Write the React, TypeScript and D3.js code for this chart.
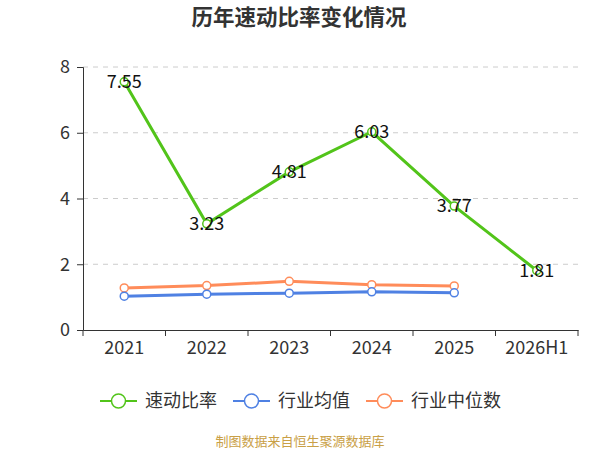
import * as d3 from 'd3';
import { useEffect, useRef } from 'react';

const categories = ['2021', '2022', '2023', '2024', '2025', '2026H1'];
const quickRatio = [7.55, 3.23, 4.81, 6.03, 3.77, 1.81];
const industryMean = [1.03, 1.09, 1.12, 1.16, 1.13];
const industryMedian = [1.28, 1.35, 1.48, 1.38, 1.34];
const yTicks = [0, 2, 4, 6, 8];

const series = [
  { name: '速动比率', values: quickRatio, color: '#52c41a', labels: true },
  { name: '行业均值', values: industryMean, color: '#4f81e3', labels: false },
  { name: '行业中位数', values: industryMedian, color: '#ff8c5a', labels: false },
];

const FONT = '"Noto Sans CJK SC", "Noto Sans", sans-serif';

export default function App(): React.ReactElement {
  const svgRef = useRef<SVGSVGElement>(null);

  useEffect(() => {
    if (!svgRef.current) return;
    const svg = d3.select(svgRef.current);
    svg.selectAll('*').remove();

    const left = 83;
    const right = 578;
    const top = 67;
    const bottom = 330;

    const x = d3.scaleBand<string>().domain(categories).range([left, right]);
    const y = d3.scaleLinear().domain([0, 8]).range([bottom, top]);

    // Title
    svg
      .append('text')
      .attr('x', 299)
      .attr('y', 25)
      .attr('text-anchor', 'middle')
      .attr('font-family', FONT)
      .attr('font-size', 21.5)
      .attr('font-weight', 'bold')
      .attr('fill', '#333')
      .text('历年速动比率变化情况');

    // Grid
    svg
      .append('g')
      .selectAll('line')
      .data(yTicks.filter((t) => t > 0))
      .enter()
      .append('line')
      .attr('x1', left)
      .attr('x2', right)
      .attr('y1', (d) => y(d))
      .attr('y2', (d) => y(d))
      .attr('stroke', '#ccc')
      .attr('stroke-dasharray', '5,5');

    // Y axis
    const yAxis = svg
      .append('g')
      .attr('transform', `translate(${left},0)`)
      .call(d3.axisLeft(y).tickValues(yTicks).tickSize(6).tickPadding(7));
    yAxis.select('.domain').attr('stroke', '#333');
    yAxis.selectAll('line').attr('stroke', '#333');
    yAxis
      .selectAll('text')
      .attr('font-family', FONT)
      .attr('font-size', 18)
      .attr('fill', '#333');

    // X axis
    const xAxis = svg
      .append('g')
      .attr('transform', `translate(0,${bottom})`)
      .call(d3.axisBottom(x).tickSize(0).tickPadding(11));
    xAxis.select('.domain').attr('stroke', '#333');
    xAxis
      .selectAll('text')
      .attr('font-family', FONT)
      .attr('font-size', 18)
      .attr('fill', '#333');
    const bounds = [...categories.map((c) => x(c) as number), right];
    xAxis
      .selectAll('line.bound')
      .data(bounds)
      .enter()
      .append('line')
      .attr('class', 'bound')
      .attr('x1', (d) => d)
      .attr('x2', (d) => d)
      .attr('y1', 0)
      .attr('y2', 6)
      .attr('stroke', '#333');

    const cx = (i: number) => (x(categories[i]) as number) + x.bandwidth() / 2;
    const line = d3
      .line<number>()
      .x((_, i) => cx(i))
      .y((d) => y(d));

    // Draw industry lines first, then main series on top
    [series[2], series[1], series[0]].forEach((s) => {
      const g = svg.append('g');
      g.append('path')
        .datum(s.values)
        .attr('d', line)
        .attr('fill', 'none')
        .attr('stroke', s.color)
        .attr('stroke-width', 3);
      g.selectAll('circle')
        .data(s.values)
        .enter()
        .append('circle')
        .attr('cx', (_, i) => cx(i))
        .attr('cy', (d) => y(d))
        .attr('r', 4)
        .attr('fill', '#fff')
        .attr('stroke', s.color)
        .attr('stroke-width', 1.5);
      if (s.labels) {
        g.selectAll('text')
          .data(s.values)
          .enter()
          .append('text')
          .attr('x', (_, i) => cx(i))
          .attr('y', (d) => y(d))
          .attr('dy', '0.35em')
          .attr('text-anchor', 'middle')
          .attr('font-family', FONT)
          .attr('font-size', 18)
          .attr('fill', '#111')
          .text((d) => d.toFixed(2));
      }
    });

    // Legend
    const legendX = [100, 233, 366];
    series.forEach((s, i) => {
      const g = svg.append('g').attr('transform', `translate(${legendX[i]},401)`);
      g.append('line')
        .attr('x1', 0)
        .attr('x2', 37)
        .attr('stroke', s.color)
        .attr('stroke-width', 2);
      g.append('circle')
        .attr('cx', 18.5)
        .attr('r', 7)
        .attr('fill', '#fff')
        .attr('stroke', s.color)
        .attr('stroke-width', 1.5);
      g.append('text')
        .attr('x', 45)
        .attr('dy', '0.35em')
        .attr('font-family', FONT)
        .attr('font-size', 18)
        .attr('fill', '#333')
        .text(s.name);
    });

    // Footer
    svg
      .append('text')
      .attr('x', 300)
      .attr('y', 446)
      .attr('text-anchor', 'middle')
      .attr('font-family', FONT)
      .attr('font-size', 13)
      .attr('fill', '#c9a046')
      .text('制图数据来自恒生聚源数据库');
  }, []);

  return (
    <div style={{ position: 'absolute', left: 0, top: 0 }}>
      <svg ref={svgRef} width={600} height={450} />
    </div>
  );
}
